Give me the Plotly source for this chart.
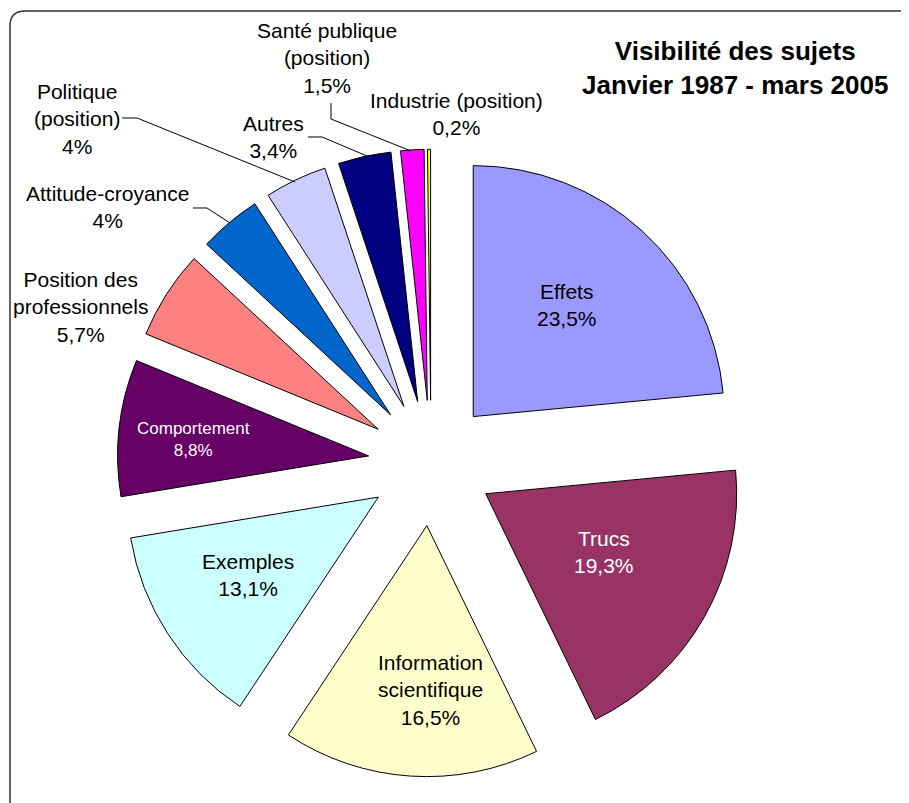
import plotly.graph_objects as go

# ---- data ----
categories = ["Effets", "Trucs", "Information scientifique", "Exemples", "Comportement",
              "Position des professionnels", "Attitude-croyance", "Politique (position)",
              "Autres", "Santé publique (position)", "Industrie (position)"]
display_names = ["Effets", "Trucs", "Information<br>scientifique", "Exemples", "Comportement",
                 "Position des<br>professionnels", "Attitude-croyance", "Politique<br>(position)",
                 "Autres", "Santé publique<br>(position)", "Industrie (position)"]
values = [23.5, 19.3, 16.5, 13.1, 8.8, 5.7, 4, 4, 3.4, 1.5, 0.2]
colors = ["#9999FF", "#993366", "#FFFFCC", "#CCFFFF", "#660066", "#FF8080",
          "#0066CC", "#CCCCFF", "#000080", "#FF00FF", "#FFFF00"]
text_colors = ["black", "white", "black", "black", "white", "black",
               "black", "black", "black", "black", "black"]
title_lines = ["Visibilité des sujets", "Janvier 1987 - mars 2005"]

# ---- layout constants (window pixels) ----
OFF = 8                      # page body margin
W, H = 909 - OFF, 803 - OFF  # figure size so it fits the window
CX, CY, R, PULL = 431, 463, 251, 0.25
label_pos = [(567, 305), (604, 552), (430, 690), (248, 575), (193, 439), (80, 307),
             (107, 207), (77, 119), (273, 137), (327, 58), (456, 114)]
label_sizes = [21, 21, 21, 21, 17, 21, 21, 21, 21, 21, 21]
leaders = [
    [(122, 118), (137, 118), (295, 182)],   # Politique
    [(193, 208), (207, 208), (230, 223)],   # Attitude-croyance
    [(308, 137), (322, 137), (367, 156)],   # Autres
    [(331, 103), (331, 119), (411, 151)],   # Santé publique
]

def px(x):
    return (x - OFF) / W

def py(y):
    return 1 - (y - OFF) / H

half = R * (1 + PULL)
domain_x = [px(CX - half), px(CX + half)]
domain_y = [py(CY + half), py(CY - half)]

fig = go.Figure(go.Pie(
    labels=categories,
    values=values,
    sort=False,
    direction="clockwise",
    rotation=0,
    pull=PULL,
    marker=dict(colors=colors, line=dict(color="black", width=1)),
    textinfo="none",
    hoverinfo="skip",
    domain=dict(x=domain_x, y=domain_y),
    showlegend=False,
))

def fmt(v):
    return f"{v:g}".replace(".", ",") + "%"

annotations = []
for name, v, (x, y), c, s in zip(display_names, values, label_pos, text_colors, label_sizes):
    annotations.append(dict(
        x=px(x), y=py(y), xref="paper", yref="paper",
        text=f"{name}<br>{fmt(v)}", showarrow=False,
        xanchor="center", yanchor="middle", align="center",
        font=dict(family="Liberation Sans, Arial, sans-serif", size=s, color=c),
    ))
annotations.append(dict(
    x=px(735), y=py(68), xref="paper", yref="paper",
    text="<b>" + "<br>".join(title_lines) + "</b>", showarrow=False,
    xanchor="center", yanchor="middle", align="center",
    font=dict(family="Liberation Sans, Arial, sans-serif", size=26, color="black"),
))

shapes = []
for pts in leaders:
    path = "M " + " L ".join(f"{px(x):.5f},{py(y):.5f}" for x, y in pts)
    shapes.append(dict(type="path", xref="paper", yref="paper", path=path,
                       line=dict(color="black", width=1)))

# rounded chart-area border (right and bottom edges fall just outside the window)
L, T, Rr, B, rad = 10, 11, 918, 812, 15
border = (f"M {px(L)},{py(B)} L {px(L)},{py(T + rad)} Q {px(L)},{py(T)} {px(L + rad)},{py(T)} "
          f"L {px(Rr - rad)},{py(T)} Q {px(Rr)},{py(T)} {px(Rr)},{py(T + rad)} L {px(Rr)},{py(B)}")
shapes.append(dict(type="path", xref="paper", yref="paper", path=border,
                   line=dict(color="#333333", width=1.5)))

fig.update_layout(
    width=W, height=H,
    margin=dict(l=0, r=0, t=0, b=0),
    paper_bgcolor="white", plot_bgcolor="white",
    annotations=annotations, shapes=shapes,
    hovermode=False,
)

fig.write_html("out.html")
